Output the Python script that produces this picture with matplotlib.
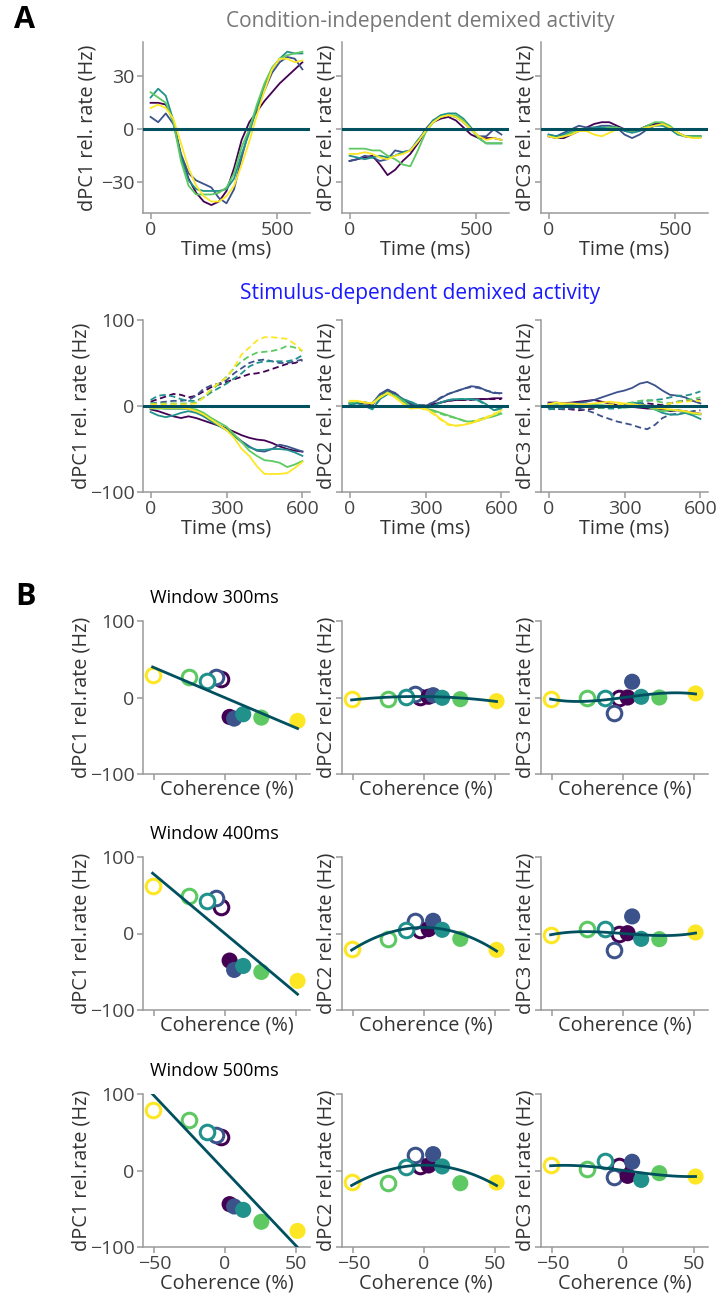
import numpy as np
import matplotlib
matplotlib.use("Agg")
import matplotlib.pyplot as plt

plt.rcParams['font.family'] = ['Open Sans', 'DejaVu Sans']

W, H = 719, 1298

colors = ['#440154', '#3b528b', '#21918c', '#5ec962', '#fde725']
fit_color = '#00505f'

# time axis (ms) for the demixed traces
t = np.arange(0, 601, 30)

# condition-independent components, one row per coherence level (purple..yellow)
ci_dpc1 = [
    [15, 15, 14, 5, -15, -28, -36, -41, -43, -41, -35, -22, -6, 4, 10, 16, 21, 26, 30, 34, 38],
    [7, 4, 9, 3, -14, -25, -29, -31, -33, -39, -42, -34, -16, 0, 12, 22, 32, 38, 41, 40, 34],
    [18, 23, 19, 5, -16, -29, -34, -35, -35, -35, -34, -28, -14, -2, 12, 24, 34, 40, 44, 43, 43],
    [21, 18, 15, 4, -18, -32, -37, -37, -37, -36, -33, -25, -10, 0, 14, 26, 35, 40, 42, 43, 44],
    [12, 14, 12, 6, -8, -22, -32, -38, -41, -41, -38, -32, -20, -7, 8, 22, 34, 40, 40, 38, 39],
]
ci_dpc2 = [
    [-18, -17, -16, -15, -20, -26, -23, -18, -14, -8, -1, 4, 6, 7, 5, 1, -3, -5, -5, -5, -6],
    [-18, -17, -15, -16, -18, -17, -12, -13, -12, -7, 0, 5, 7, 8, 7, 4, 0, -4, -4, 0, -3],
    [-15, -16, -17, -16, -15, -16, -15, -13, -12, -6, -1, 5, 8, 9, 9, 6, 1, -5, -8, -8, -8],
    [-11, -11, -11, -12, -12, -15, -17, -20, -21, -12, -2, 4, 7, 8, 8, 5, 0, -5, -8, -8, -8],
    [-14, -14, -13, -14, -16, -17, -15, -14, -12, -7, -1, 4, 7, 8, 7, 4, 0, -4, -6, -5, -6],
]
ci_dpc3 = [
    [-4, -5, -5, -3, -1, 1, 3, 4, 4, 2, 0, -1, 0, 2, 3, 3, 1, -2, -4, -4, -4],
    [-3, -4, -2, 0, 2, 1, 1, 2, 2, 1, -3, -5, -3, 0, 2, 3, 1, -2, -4, -4, -4],
    [-3, -4, -3, -1, 0, 0, 1, 1, 1, 1, -1, -2, -1, 1, 2, 2, 0, -3, -4, -4, -4],
    [-4, -5, -4, -2, -1, 0, 0, 0, 1, 1, 0, -1, 0, 2, 4, 4, 2, -2, -4, -4, -4],
    [-4, -5, -4, -3, -1, -1, -3, -4, -2, 0, 0, 0, 0, 1, 2, 3, 1, -2, -4, -5, -5],
]

# stimulus-dependent components: solid = one stimulus, dashed = the other
sd_dpc1_solid = [
    [-4, -6, -9, -12, -14, -12, -14, -17, -20, -23, -26, -30, -34, -37, -39, -40, -43, -47, -50, -52, -53],
    [-1, -2, -3, -3, -3, -3, -6, -12, -17, -22, -27, -34, -41, -47, -52, -53, -50, -45, -47, -50, -53],
    [-7, -11, -13, -11, -8, -6, -8, -12, -18, -23, -28, -35, -42, -48, -51, -51, -50, -50, -51, -54, -58],
    [-3, -3, -3, -3, -3, -3, -4, -8, -14, -19, -24, -33, -42, -52, -58, -63, -64, -66, -71, -68, -64],
    [-2, -2, -2, -2, -2, -3, -6, -10, -16, -22, -28, -37, -50, -58, -70, -79, -79, -79, -78, -72, -65],
]
sd_dpc1_dashed = [
    [5, 8, 11, 14, 13, 10, 12, 17, 22, 25, 28, 31, 34, 37, 38, 40, 43, 46, 49, 50, 53],
    [3, 4, 5, 6, 6, 7, 12, 20, 24, 26, 30, 38, 44, 50, 53, 54, 52, 50, 50, 52, 54],
    [7, 12, 13, 11, 8, 6, 6, 10, 16, 21, 26, 32, 38, 46, 50, 52, 52, 52, 52, 54, 59],
    [3, 3, 3, 3, 3, 3, 4, 10, 18, 26, 34, 44, 52, 58, 62, 63, 64, 66, 70, 68, 64],
    [2, 2, 2, 2, 2, 2, 3, 10, 20, 27, 33, 45, 60, 68, 76, 80, 80, 79, 78, 72, 64],
]
sd_dpc2_solid = [
    [3, 4, 3, 2, 12, 17, 13, 6, 2, 0, 0, 2, 4, 6, 7, 7, 8, 8, 8, 9, 9],
    [3, 5, 4, 3, 14, 19, 15, 8, 3, 1, 0, 4, 9, 14, 17, 20, 23, 22, 18, 15, 15],
    [2, 3, 0, -4, 8, 14, 12, 8, 5, 1, -2, 0, 4, 7, 8, 8, 8, 7, 2, -5, -3],
    [4, 5, 4, 3, 11, 16, 12, 6, 0, -2, -3, -5, -8, -11, -14, -17, -19, -17, -14, -12, -9],
    [6, 6, 4, 3, 10, 15, 10, 3, -3, -2, -3, -8, -15, -21, -23, -22, -20, -17, -14, -10, -5],
]
sd_dpc2_dashed = [
    [3, 4, 3, 2, 11, 17, 13, 6, 2, 0, 0, 2, 4, 6, 7, 7, 7, 8, 8, 8, 8],
    [3, 5, 4, 3, 13, 19, 15, 8, 3, 1, 1, 4, 10, 14, 17, 20, 22, 21, 18, 16, 14],
    [2, 3, 0, -3, 8, 14, 12, 8, 5, 1, -2, 0, 4, 7, 8, 8, 8, 6, 1, -5, -2],
    [4, 5, 4, 3, 11, 16, 12, 6, 0, -2, -3, -6, -9, -12, -14, -17, -18, -16, -13, -11, -8],
    [6, 6, 4, 3, 10, 15, 10, 3, -3, -2, -4, -9, -16, -22, -23, -22, -19, -16, -13, -9, -6],
]
sd_dpc3_solid = [
    [4, 4, 3, 4, 5, 6, 7, 5, 3, 1, 0, -1, -2, -3, -3, -4, -6, -5, -6, -8, -9],
    [3, 3, 2, 3, 4, 5, 7, 10, 13, 16, 18, 21, 26, 28, 24, 18, 13, 12, 10, 6, 3],
    [-2, -1, 0, 1, 2, 2, 1, 0, 0, 0, 2, 4, 3, 0, -4, -8, -10, -10, -8, -11, -15],
    [2, 3, 2, 1, 0, 1, 1, 1, 0, -1, -2, -1, 0, -1, -4, -6, -5, -5, -7, -9, -10],
    [2, 4, 3, 3, 2, 2, 3, 4, 5, 4, 3, 2, 1, 0, -2, -3, -4, -5, -6, -8, -9],
]
sd_dpc3_dashed = [
    [-3, -4, -3, -4, -5, -4, -3, -2, -1, 0, 0, 1, 2, 3, 2, 1, 3, 5, 6, 6, 7],
    [-2, -3, -4, -3, -3, -5, -8, -12, -15, -18, -20, -22, -25, -27, -22, -14, -10, -9, -8, -6, -5],
    [-4, -3, -2, -1, -1, 0, -1, -2, -3, -3, -1, 1, 4, 6, 7, 8, 10, 12, 12, 14, 17],
    [0, -1, -1, 0, 0, -1, -2, -2, -1, 0, 2, 4, 6, 7, 6, 4, 3, 5, 7, 8, 10],
    [2, 3, 1, 0, -1, -2, -1, 0, 2, 2, 2, 1, 0, -1, -2, 0, 3, 4, 5, 6, 6],
]

# panel B: coherence levels and window-averaged component values
coherence = [3.2, 6.4, 12.8, 25.6, 51.2]

w300_pc1_neg = [24, 27, 21.9, 26.3, 29.3]
w300_pc1_pos = [-25.4, -27.6, -21.9, -26.3, -30.6]
w300_pc2_neg = [0.9, 4.4, 0.9, -2.2, -2.6]
w300_pc2_pos = [1, 3, -0.4, -2.2, -4.8]
w300_pc3_neg = [-0.4, -20, -1.3, -0.4, -2.6]
w300_pc3_pos = [0, 20.6, 0.9, 0, 5.3]

w400_pc1_neg = [35, 47, 42, 49.3, 61.6]
w400_pc1_pos = [-35.4, -47.6, -42.4, -50.2, -62]
w400_pc2_neg = [4.8, 16.6, 4.8, -7, -19.7]
w400_pc2_pos = [5.7, 16.6, 4.8, -7, -21.4]
w400_pc3_neg = [-0.4, -21.4, 6.5, 6.5, -2.2]
w400_pc3_pos = [0.4, 22.3, -7, -7.4, 1.3]

w500_pc1_neg = [43.2, 46.3, 50.7, 66, 78.6]
w500_pc1_pos = [-44, -47, -51.5, -67, -79]
w500_pc2_neg = [5.3, 20.6, 4.4, -16.6, -15.3]
w500_pc2_pos = [6.6, 21.4, 5.3, -16.6, -15.8]
w500_pc3_neg = [5.3, -7.9, 12.3, 1.8, 6.6]
w500_pc3_pos = [-7, 11.4, -12.3, -3.5, -7.9]

windows = ['Window 300ms', 'Window 400ms', 'Window 500ms']
scatter_data = [
    [(w300_pc1_neg, w300_pc1_pos), (w300_pc2_neg, w300_pc2_pos), (w300_pc3_neg, w300_pc3_pos)],
    [(w400_pc1_neg, w400_pc1_pos), (w400_pc2_neg, w400_pc2_pos), (w400_pc3_neg, w400_pc3_pos)],
    [(w500_pc1_neg, w500_pc1_pos), (w500_pc2_neg, w500_pc2_pos), (w500_pc3_neg, w500_pc3_pos)],
]

fig = plt.figure(figsize=(W / 100, H / 100), dpi=100)

col_left = [143, 342, 541]
col_w = 167
LABEL_FS = 14.3
TICK_FS = 14


def add_ax(left, top, width, height):
    return fig.add_axes([left / W, 1 - (top + height) / H, width / W, height / H])


def style(ax):
    for s in ['top', 'right']:
        ax.spines[s].set_visible(False)
    for s in ['left', 'bottom']:
        ax.spines[s].set_color('#9a9a9a')
        ax.spines[s].set_linewidth(1.1)
    ax.tick_params(colors='#9a9a9a', labelcolor='#444444', labelsize=TICK_FS, length=4,
                   width=1.1, pad=2)


def labels(ax, j, xl, yl, first_x):
    ax.set_xlabel(xl, fontsize=LABEL_FS, color='#333333', labelpad=0)
    ax.set_ylabel(yl, fontsize=LABEL_FS, color='#333333')
    ax.yaxis.set_label_coords(first_x if j == 0 else -0.035, 0.5)


# ---- row 1: condition-independent
for j, data in enumerate([ci_dpc1, ci_dpc2, ci_dpc3]):
    ax = add_ax(col_left[j], 42, col_w, 171)
    style(ax)
    for k in range(5):
        ax.plot(t, data[k], color=colors[k], lw=1.3)
    ax.axhline(0, color=fit_color, lw=2.2, zorder=5)
    ax.set_ylim(-47.5, 49.5)
    ax.set_xlim(-30, 630)
    ax.set_yticks([-30, 0, 30])
    ax.set_xticks([0, 500])
    labels(ax, j, 'Time (ms)', 'dPC%d rel. rate (Hz)' % (j + 1), -0.27)
    if j > 0:
        ax.tick_params(labelleft=False)

# ---- row 2: stimulus-dependent
sd_sets = [(sd_dpc1_solid, sd_dpc1_dashed), (sd_dpc2_solid, sd_dpc2_dashed), (sd_dpc3_solid, sd_dpc3_dashed)]
for j, (solid, dashed) in enumerate(sd_sets):
    ax = add_ax(col_left[j], 320, col_w, 172)
    style(ax)
    for k in range(5):
        ax.plot(t, solid[k], color=colors[k], lw=1.3)
        ax.plot(t, dashed[k], color=colors[k], lw=1.3, ls='--', dashes=(3.5, 2))
    ax.axhline(0, color=fit_color, lw=2.2, zorder=5)
    ax.set_ylim(-100, 100)
    ax.set_xlim(-30, 630)
    ax.set_yticks([-100, 0, 100])
    ax.set_xticks([0, 300, 600])
    labels(ax, j, 'Time (ms)', 'dPC%d rel. rate (Hz)' % (j + 1), -0.31)
    if j > 0:
        ax.tick_params(labelleft=False)

# ---- rows 3-5: window averages vs coherence
coh = np.array(coherence)
xs = np.linspace(-51.2, 51.2, 100)
row_tops = [621, 857, 1094]
for i in range(3):
    for j in range(3):
        neg, pos = scatter_data[i][j]
        ax = add_ax(col_left[j], row_tops[i], col_w, 153)
        style(ax)
        for k in range(5):
            ax.scatter(-coh[k], neg[k], s=110, facecolors='white', edgecolors=colors[k],
                       linewidths=2.2, zorder=3)
        for k in range(5):
            ax.scatter(coh[k], pos[k], s=135, color=colors[k], edgecolors='none', zorder=3)
        xall = np.concatenate([-coh, coh])
        yall = np.concatenate([neg, pos])
        p = np.polyfit(xall, yall, j + 1)
        ax.plot(xs, np.polyval(p, xs), color=fit_color, lw=2, zorder=4)
        ax.set_ylim(-100, 100)
        ax.set_xlim(-58, 60)
        ax.set_yticks([-100, 0, 100])
        ax.set_xticks([-50, 0, 50])
        labels(ax, j, 'Coherence (%)', 'dPC%d rel.rate (Hz)' % (j + 1), -0.31)
        if j > 0:
            ax.tick_params(labelleft=False)
        if i < 2:
            ax.tick_params(labelbottom=False)
        if j == 0:
            ax.text(0.04, 1.09, windows[i], transform=ax.transAxes, fontsize=13,
                    color='black', va='bottom', ha='left')

fig.text(420 / W, 1 - 22 / H, 'Condition-independent demixed activity', fontsize=15,
         color='#777777', ha='center', va='center')
fig.text(420 / W, 1 - 293 / H, 'Stimulus-dependent demixed activity', fontsize=15,
         color='#1a1aff', ha='center', va='center')
fig.text(25 / W, 1 - 20 / H, 'A', fontsize=22, fontweight='bold', ha='center', va='center')
fig.text(25 / W, 1 - 597 / H, 'B', fontsize=22, fontweight='bold', ha='center', va='center')

fig.savefig('out.png', dpi=100)
